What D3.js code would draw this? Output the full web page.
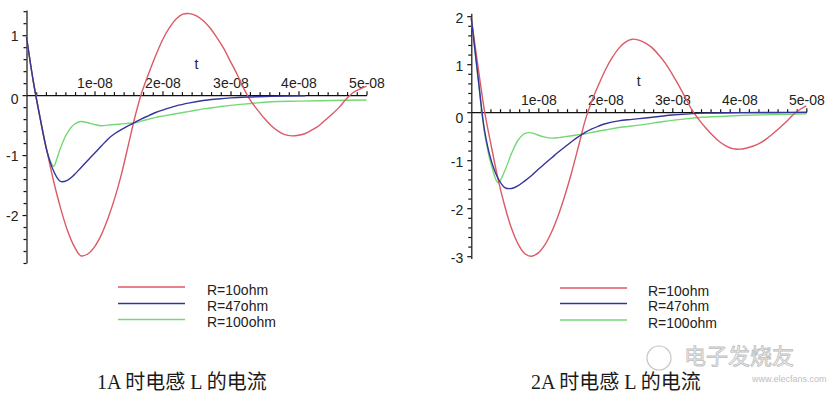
<!DOCTYPE html>
<html><head><meta charset="utf-8">
<script src="https://cdn.jsdelivr.net/npm/d3@7"></script>
<style>body{margin:0;background:#fff;} svg{display:block}</style>
</head><body>
<svg id="c" width="828" height="396"></svg>
<script>
// ---------- data (time in ns, current in A) ----------
const tickTimesNs = [10, 20, 30, 40, 50];
const tickLabelsX = ["1e-08", "2e-08", "3e-08", "4e-08", "5e-08"];
const yTicksLeft = [1, 0, -1, -2];
const yTicksRight = [2, 1, 0, -1, -2, -3];
const seriesNames = ["R=10ohm", "R=47ohm", "R=100ohm"];
const seriesColors = ["#dc5a66", "#34349c", "#74d874"];
const captions = ["1A 时电感 L 的电流", "2A 时电感 L 的电流"];

// 1A chart
const leftRedT = [0,1,2,3,4,5,6,7,8,9,10,11,12,13,14,15,16,17,18,19,20,21,22,23,24,25,26,27,28,29,30,31,32,33,34,35,36,37,38,39,40,41,42,43,44,45,46,47,48,49,50];
const leftRedV = [0.97,0.23,-0.38,-0.93,-1.44,-1.88,-2.25,-2.52,-2.68,-2.65,-2.53,-2.33,-2.05,-1.71,-1.30,-0.82,-0.34,0.06,0.37,0.66,0.92,1.12,1.27,1.35,1.36,1.32,1.24,1.12,0.96,0.78,0.56,0.34,0.10,-0.10,-0.25,-0.39,-0.51,-0.60,-0.66,-0.68,-0.67,-0.64,-0.58,-0.51,-0.41,-0.31,-0.20,-0.07,0.04,0.10,0.15];
const leftBlueT = [0,1,2,3,4,5,6,7,8,9,10,11,12,13,14,15,16,17,18,19,20,22,24,26,28,30,33,36,41];
const leftBlueV = [0.97,0.23,-0.38,-0.93,-1.27,-1.44,-1.42,-1.33,-1.21,-1.09,-0.97,-0.85,-0.73,-0.64,-0.57,-0.51,-0.45,-0.39,-0.34,-0.29,-0.25,-0.18,-0.13,-0.09,-0.065,-0.045,-0.03,-0.02,-0.01];
const leftGreenT = [0,1,2,3,3.5,4,4.5,5,6,7,8,9,10,11,12,13,14,15,16,17,18,19,20,22,24,26,28,30,33,36,40,45,50];
const leftGreenV = [0.97,0.23,-0.38,-0.93,-1.1,-1.19,-1.05,-0.88,-0.63,-0.49,-0.44,-0.46,-0.49,-0.51,-0.5,-0.49,-0.48,-0.47,-0.46,-0.43,-0.40,-0.37,-0.35,-0.31,-0.27,-0.23,-0.2,-0.17,-0.14,-0.11,-0.1,-0.09,-0.08];

// 2A chart
const rightRedT = [0,1,2,3,4,5,6,7,8,9,10,11,12,13,14,15,16,17,18,19,20,21,22,23,24,25,26,27,28,29,30,31,32,33,34,35,36,37,38,39,40,41,42,43,44,45,46,47,48,49,50];
const rightRedV = [1.96,0.95,0.0,-0.72,-1.40,-1.96,-2.42,-2.75,-2.95,-3.0,-2.93,-2.76,-2.49,-2.14,-1.72,-1.24,-0.71,-0.17,0.24,0.57,0.88,1.13,1.33,1.46,1.52,1.50,1.44,1.34,1.19,1.01,0.79,0.55,0.29,0.03,-0.16,-0.33,-0.48,-0.61,-0.70,-0.76,-0.77,-0.75,-0.71,-0.65,-0.56,-0.45,-0.33,-0.20,-0.06,0.05,0.13];
const rightBlueT = [0,1,2,3,4,5,6,7,8,9,10,11,12,13,14,15,16,17,18,19,20,22,24,26,28,30,32,35,40,45,50];
const rightBlueV = [1.96,0.74,-0.40,-1.02,-1.38,-1.57,-1.59,-1.53,-1.43,-1.32,-1.19,-1.07,-0.95,-0.83,-0.72,-0.61,-0.51,-0.42,-0.35,-0.29,-0.24,-0.18,-0.15,-0.12,-0.09,-0.06,-0.04,-0.02,-0.01,-0.005,0];
const rightGreenT = [0,1,2,3,4,5,6,7,8,9,10,11,12,13,14,15,16,17,18,20,22,25,28,30,32,34,37,40,45,50];
const rightGreenV = [1.96,0.72,-0.45,-1.10,-1.47,-1.22,-0.86,-0.58,-0.44,-0.43,-0.48,-0.52,-0.54,-0.53,-0.51,-0.49,-0.47,-0.45,-0.42,-0.37,-0.32,-0.27,-0.21,-0.17,-0.14,-0.11,-0.09,-0.07,-0.05,-0.035];

// ---------- drawing ----------
const svg = d3.select("#c");
const FONT = "'Liberation Sans', Arial, sans-serif";
const zip = (t, v) => t.map((d, i) => [d, v[i]]);

function drawChart(cfg) {
  const x = d3.scaleLinear().domain([0, 50]).range(cfg.xRange);
  const y = d3.scaleLinear().domain(cfg.yDomain).range(cfg.yRange);
  const g = svg.append("g");

  const minorX = d3.range(1, 36).filter(k => k % 7 !== 0).map(k => k * 10 / 7);
  const minorY = d3.range(Math.ceil(cfg.yDomain[1] * 5), Math.floor(cfg.yDomain[0] * 5) + 1)
    .filter(k => k % 5 !== 0).map(k => k / 5);

  const gxm = g.append("g").attr("transform", `translate(0,${y(0)})`)
    .call(d3.axisTop(x).tickValues(minorX).tickFormat("").tickSize(3).tickSizeOuter(0));
  gxm.select(".domain").remove();
  const gym = g.append("g").attr("transform", `translate(${x(0)},0)`)
    .call(d3.axisLeft(y).tickValues(minorY).tickFormat("").tickSize(3).tickSizeOuter(0));
  gym.select(".domain").remove();

  const gx = g.append("g").attr("transform", `translate(0,${y(0)})`)
    .call(d3.axisTop(x).tickValues(tickTimesNs).tickFormat((d, i) => tickLabelsX[i])
      .tickSize(4).tickPadding(0).tickSizeOuter(0));
  const gy = g.append("g").attr("transform", `translate(${x(0)},0)`)
    .call(d3.axisLeft(y).tickValues(cfg.yTicks).tickFormat(d => d)
      .tickSize(4).tickPadding(4).tickSizeOuter(0));

  [gx, gy, gxm, gym].forEach(a => {
    a.selectAll("path,line").attr("stroke", "#111").attr("stroke-width", 1.2);
    a.selectAll("text").attr("font-family", FONT).attr("font-size", 14).attr("fill", "#222");
  });
  gx.selectAll("text").attr("dy", "-0.25em");
  gy.selectAll("text").attr("transform", d => `translate(0,${d === 0 ? cfg.zeroDy : cfg.labelDy})`);

  g.append("text").attr("x", (cfg.xRange[0] + cfg.xRange[1]) / 2).attr("y", y(0) - 26)
    .attr("text-anchor", "middle").attr("font-family", FONT).attr("font-size", 14)
    .attr("fill", "#222").text("t");

  const line = d3.line().x(d => x(d[0])).y(d => y(d[1])).curve(d3.curveCatmullRom.alpha(0.5));
  [2, 0, 1].forEach(i => {
    g.append("path").datum(cfg.series[i]).attr("d", line)
      .attr("fill", "none").attr("stroke", seriesColors[i]).attr("stroke-width", 1.4);
  });

  seriesNames.forEach((name, i) => {
    const ly = cfg.legendY[i];
    g.append("line").attr("x1", cfg.legendX[0]).attr("x2", cfg.legendX[1])
      .attr("y1", ly).attr("y2", ly).attr("stroke", seriesColors[i]).attr("stroke-width", 1.5);
    g.append("text").attr("x", cfg.legendX[2]).attr("y", ly + 2.5)
      .attr("dominant-baseline", "central").attr("font-family", FONT).attr("font-size", 14)
      .attr("fill", "#222").text(name);
  });

  g.append("text").attr("x", cfg.captionX).attr("y", 389)
    .attr("font-family", "'Liberation Serif', 'Noto Sans CJK SC', serif").attr("font-size", 20)
    .attr("fill", "#1a1a1a").text(cfg.caption);
}

drawChart({
  xRange: [26.5, 366.5], yDomain: [1.42, -2.8], yRange: [10, 263],
  yTicks: yTicksLeft, labelDy: 1, zeroDy: 4,
  series: [zip(leftRedT, leftRedV), zip(leftBlueT, leftBlueV), zip(leftGreenT, leftGreenV)],
  legendX: [118, 185, 207], legendY: [287, 303.5, 319.5],
  captionX: 97, caption: captions[0]
});
drawChart({
  xRange: [471.3, 806.3], yDomain: [2.06, -3.05], yRange: [13.3, 258.6],
  yTicks: yTicksRight, labelDy: 2, zeroDy: 6,
  series: [zip(rightRedT, rightRedV), zip(rightBlueT, rightBlueV), zip(rightGreenT, rightGreenV)],
  legendX: [560, 627, 648], legendY: [288, 303.5, 320],
  captionX: 531, caption: captions[1]
});

// watermark
const wm = svg.append("g").attr("opacity", 0.55);
wm.append("circle").attr("cx", 659).attr("cy", 358).attr("r", 12)
  .attr("fill", "none").attr("stroke", "#999").attr("stroke-width", 1.2);
wm.append("text").attr("x", 684).attr("y", 364).attr("font-family", "'Noto Sans CJK SC', sans-serif")
  .attr("font-size", 22).attr("fill", "#e8e8e8").attr("stroke", "#888").attr("stroke-width", 0.8)
  .text("电子发烧友");
wm.append("text").attr("x", 752).attr("y", 382).attr("font-family", FONT)
  .attr("font-size", 9).attr("fill", "#888").text("www.elecfans.com");
</script>
</body></html>
